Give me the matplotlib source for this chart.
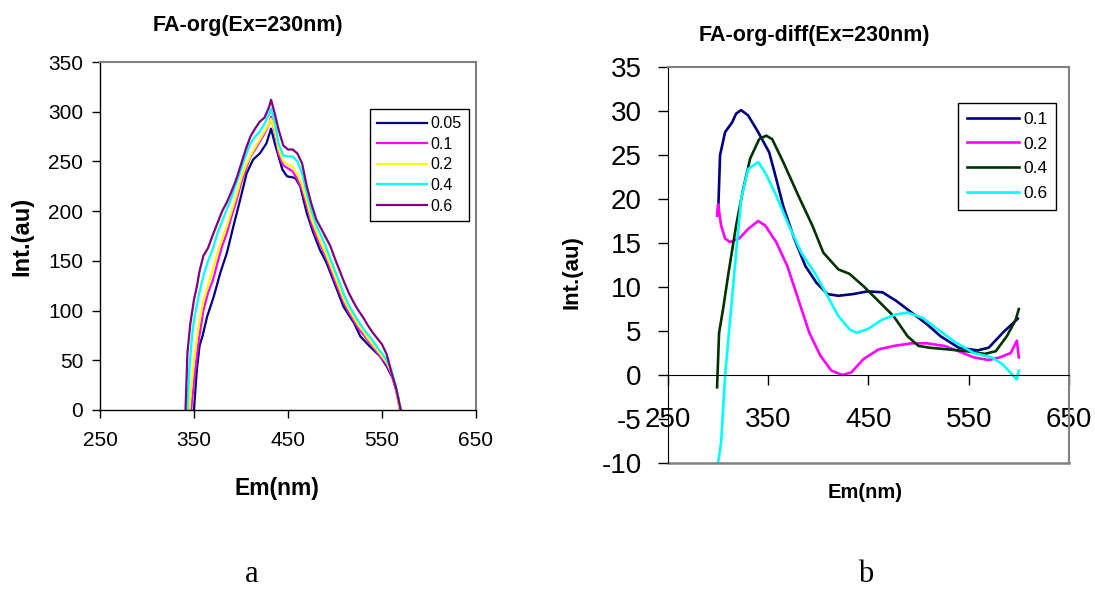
import matplotlib.pyplot as plt

plt.rcParams['font.family'] = ['Liberation Sans', 'DejaVu Sans']
plt.rcParams['axes.unicode_minus'] = False

# ---- panel a: FA-org (Ex=230nm), raw spectra ----
conc_a = ['0.05', '0.1', '0.2', '0.4', '0.6']
colors_a = ['#000080', '#FF00FF', '#FFFF00', '#00FFFF', '#800080']

em_005 = [350, 353, 356, 359, 364, 371, 378, 385, 392, 399, 406, 413, 420, 427, 432,
          436, 440, 444, 449, 455, 458, 463, 470, 477, 484, 491, 498, 505, 509, 515,
          520, 527, 537, 548, 555, 562, 567, 569]
int_005 = [0, 40, 65, 74, 94, 114, 138, 158, 185, 211, 238, 252, 258, 268, 283,
           268, 255, 242, 235, 234, 233, 225, 198, 178, 161, 148, 131, 114, 104, 95,
           88, 74, 64, 54, 44, 31, 14, 0]

em_01 = [347, 350, 355, 360, 365, 370, 375, 380, 385, 390, 395, 400, 405, 410, 415,
         420, 425, 430, 432, 436, 440, 445, 450, 455, 460, 465, 470, 475, 480, 485,
         490, 495, 500, 505, 510, 515, 520, 525, 530, 535, 540, 545, 550, 555, 560,
         565, 569]
int_01 = [0, 30, 70, 100, 118, 130, 148, 165, 178, 195, 210, 228, 242, 255, 262,
          270, 278, 288, 295, 280, 258, 246, 243, 240, 232, 222, 205, 188, 175, 165,
          155, 142, 130, 118, 107, 98, 90, 82, 76, 70, 64, 58, 52, 46, 36,
          20, 0]

em_02 = [345, 348, 350, 355, 360, 365, 370, 375, 380, 385, 390, 395, 400, 405, 410,
         415, 420, 425, 430, 432, 436, 440, 445, 450, 455, 460, 465, 470, 475, 480,
         485, 490, 495, 500, 505, 510, 515, 520, 525, 530, 535, 540, 545, 550, 555,
         560, 565, 569]
int_02 = [0, 30, 50, 85, 110, 125, 142, 158, 172, 185, 200, 215, 232, 245, 256,
          264, 272, 280, 288, 293, 282, 262, 250, 247, 245, 237, 226, 210, 192, 180,
          168, 158, 146, 134, 122, 110, 101, 93, 85, 79, 72, 66, 60, 54, 48,
          38, 22, 0]

em_04 = [343, 345, 348, 350, 355, 360, 365, 370, 375, 380, 385, 390, 395, 400, 405,
         410, 415, 420, 425, 430, 432, 436, 440, 445, 450, 455, 460, 465, 470, 475,
         480, 485, 490, 495, 500, 505, 510, 515, 520, 525, 530, 535, 540, 545, 550,
         555, 560, 565, 570]
int_04 = [0, 40, 75, 90, 115, 135, 150, 162, 178, 190, 202, 214, 228, 242, 256,
          268, 275, 280, 288, 298, 303, 290, 268, 256, 255, 255, 250, 238, 218, 200,
          186, 176, 165, 152, 140, 128, 115, 105, 97, 89, 82, 76, 70, 63, 57,
          50, 40, 23, 0]

em_06 = [341, 343, 346, 350, 353, 356, 360, 365, 370, 375, 380, 385, 390, 395, 400,
         405, 410, 415, 420, 425, 430, 432, 436, 440, 445, 450, 455, 460, 465, 470,
         475, 480, 485, 490, 495, 500, 505, 510, 515, 520, 525, 530, 535, 540, 545,
         550, 555, 560, 565, 570]
int_06 = [0, 57, 86, 111, 124, 140, 155, 163, 176, 188, 200, 209, 220, 232, 247,
          262, 275, 283, 290, 294, 305, 312, 298, 282, 266, 262, 262, 258, 248, 225,
          207, 192, 183, 174, 165, 152, 140, 128, 117, 108, 100, 93, 85, 78, 72,
          66, 56, 38, 22, 0]

# ---- panel b: FA-org-diff (Ex=230nm), difference spectra ----
conc_b = ['0.1', '0.2', '0.4', '0.6']
colors_b = ['#000080', '#FF00FF', '#003300', '#00FFFF']

em_d01 = [300, 302, 307, 314, 318, 323, 330, 340, 351, 358, 365, 376, 387, 398, 409,
          420, 435, 449, 464, 478, 493, 508, 522, 540, 559, 570, 584, 599]
int_d01 = [18.2, 25.0, 27.6, 28.7, 29.7, 30.1, 29.5, 27.6, 25.3, 22.3, 19.2, 15.5, 12.4,
           10.5, 9.2, 9.0, 9.2, 9.5, 9.4, 8.4, 7.1, 5.8, 4.4, 3.1, 2.8, 3.1, 4.8, 6.4]

em_d02 = [299, 300, 303, 307, 312, 321, 330, 340, 347, 358, 369, 380, 391, 402, 413,
          424, 433, 445, 460, 475, 493, 508, 526, 540, 555, 570, 581, 592, 598, 600]
int_d02 = [18.1, 19.4, 17.0, 15.5, 15.1, 15.5, 16.6, 17.5, 17.0, 15.1, 12.4, 8.6, 4.8,
           2.2, 0.5, 0.0, 0.3, 1.8, 2.9, 3.3, 3.6, 3.6, 3.3, 2.7, 2.0, 1.7, 2.0, 2.5,
           3.9, 2.0]

em_d04 = [299, 301, 305, 310, 318, 325, 332, 341, 348, 354, 365, 380, 394, 405, 420,
          431, 445, 460, 475, 489, 500, 511, 530, 548, 566, 577, 588, 597, 600]
int_d04 = [-1.4, 4.8, 7.5, 11.3, 17.0, 21.1, 24.6, 26.8, 27.2, 26.8, 24.2, 20.4, 17.0,
           13.9, 12.0, 11.5, 10.1, 8.4, 6.7, 4.4, 3.3, 3.1, 2.9, 2.7, 2.4, 2.7, 4.4,
           6.3, 7.5]

em_d06 = [300, 303, 307, 312, 318, 323, 330, 340, 347, 358, 369, 383, 398, 409, 420,
          431, 438, 449, 464, 478, 489, 504, 519, 537, 555, 573, 584, 593, 598, 600]
int_d06 = [-10.0, -7.7, -0.1, 6.3, 13.9, 20.0, 23.4, 24.2, 23.0, 20.4, 17.4, 13.9, 11.3,
           9.0, 6.7, 5.2, 4.8, 5.2, 6.3, 6.9, 7.1, 6.5, 5.2, 3.7, 2.5, 2.0, 1.2, 0.1,
           -0.5, 0.5]

x_ticks = [250, 350, 450, 550, 650]

fig = plt.figure(figsize=(10.95, 5.9), dpi=100)

# panel a
ax1 = fig.add_axes([0.0913, 0.3051, 0.3434, 0.5898])
series_a = [(em_005, int_005), (em_01, int_01), (em_02, int_02), (em_04, int_04), (em_06, int_06)]
for (x, y), c, lab in zip(series_a, colors_a, conc_a):
    ax1.plot(x, y, color=c, lw=1.6, label=lab)
ax1.set_xlim(250, 650)
ax1.set_ylim(0, 350)
ax1.set_xticks(x_ticks)
ax1.set_yticks(range(0, 351, 50))
ax1.tick_params(labelsize=15, length=6, width=1, direction='out', color='black')
ax1.tick_params(axis='y', pad=6)
ax1.tick_params(axis='x', pad=9)
for s in ['top', 'right']:
    ax1.spines[s].set_color('#808080')
    ax1.spines[s].set_linewidth(1.5)
for s in ['left', 'bottom']:
    ax1.spines[s].set_color('black')
    ax1.spines[s].set_linewidth(1)
leg1 = ax1.legend(loc='upper left', bbox_to_anchor=(370 / 1095, 1 - 109 / 590),
                  bbox_transform=fig.transFigure, borderaxespad=0, fontsize=11.5,
                  handlelength=3.1, handletextpad=0.25, labelspacing=0.35,
                  borderpad=0.45, fancybox=False, framealpha=1)
leg1.get_frame().set_edgecolor('black')
leg1.get_frame().set_linewidth(1)

# panel b
ax2 = fig.add_axes([0.610, 0.2153, 0.3662, 0.6711])
series_b = [(em_d01, int_d01), (em_d02, int_d02), (em_d04, int_d04), (em_d06, int_d06)]
for (x, y), c, lab in zip(series_b, colors_b, conc_b):
    ax2.plot(x, y, color=c, lw=1.9, label=lab)
ax2.set_xlim(250, 650)
ax2.set_ylim(-10, 35)
ax2.set_xticks(x_ticks)
ax2.set_yticks(range(-10, 36, 5))
ax2.spines['bottom'].set_position(('data', 0))
ax2.spines['bottom'].set_color('black')
ax2.spines['left'].set_color('black')
for s in ['top', 'right']:
    ax2.spines[s].set_color('#808080')
    ax2.spines[s].set_linewidth(1.5)
ax2.axhline(-10, color='#808080', lw=1.8, clip_on=False)
ax2.tick_params(labelsize=20, length=7, width=1, direction='out')
ax2.tick_params(axis='y', pad=12)
ax2.tick_params(axis='x', pad=16)
leg2 = ax2.legend(loc='upper left', bbox_to_anchor=(958 / 1095, 1 - 103 / 590),
                  bbox_transform=fig.transFigure, borderaxespad=0, fontsize=12.5,
                  handlelength=3.0, handletextpad=0.25, labelspacing=0.55,
                  borderpad=0.5, fancybox=False, framealpha=1)
leg2.get_frame().set_edgecolor('black')
leg2.get_frame().set_linewidth(1)

# titles and axis labels
fig.text(248 / 1095, 1 - 25 / 590, 'FA-org(Ex=230nm)', ha='center', va='center',
         fontsize=15.5, fontweight='bold')
fig.text(22 / 1095, 1 - 236 / 590, 'Int.(au)', ha='center', va='center',
         rotation=90, fontsize=17, fontweight='bold')
fig.text(277 / 1095, 1 - 488 / 590, 'Em(nm)', ha='center', va='center',
         fontsize=16.5, fontweight='bold')

fig.text(814 / 1095, 1 - 35 / 590, 'FA-org-diff(Ex=230nm)', ha='center', va='center',
         fontsize=15.5, fontweight='bold')
fig.text(572 / 1095, 1 - 272 / 590, 'Int.(au)', ha='center', va='center',
         rotation=90, fontsize=16, fontweight='bold')
fig.text(865 / 1095, 1 - 492 / 590, 'Em(nm)', ha='center', va='center',
         fontsize=14.5, fontweight='bold')

fig.text(252 / 1095, 1 - 589 / 590, 'a', ha='center', va='bottom',
         fontsize=22, family='Liberation Serif')
fig.text(866 / 1095, 1 - 589 / 590, 'b', ha='center', va='bottom',
         fontsize=22, family='Liberation Serif')

fig.savefig('out.png', dpi=100)
